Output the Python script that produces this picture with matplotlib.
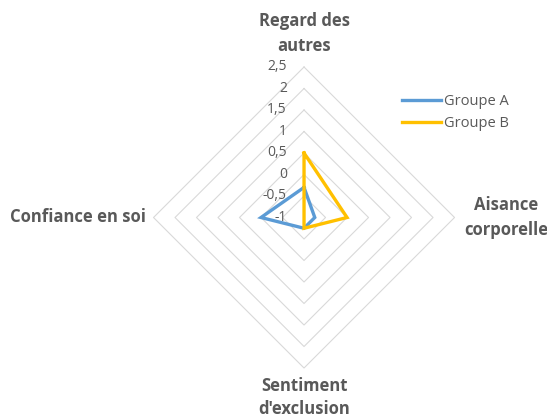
import numpy as np
import matplotlib.pyplot as plt

plt.rcParams['font.family'] = ['Open Sans', 'DejaVu Sans']

# Data
categories = ["Regard des\nautres", "Aisance\ncorporelle", "Sentiment\nd'exclusion", "Confiance en soi"]
groupe_a = [-0.3, -0.75, -0.75, 0]
groupe_b = [0.5, 0, -0.75, -1]
ticks = [-1, -0.5, 0, 0.5, 1, 1.5, 2, 2.5]
tick_labels = ["-1", "-0,5", "0", "0,5", "1", "1,5", "2", "2,5"]
r_min, r_max = -1, 2.5

# top, right, bottom, left (clockwise from top)
angles = np.pi / 2 - np.arange(len(categories)) * np.pi / 2


def to_xy(values):
    r = np.array(values, dtype=float) - r_min
    r = np.append(r, r[0])
    a = np.append(angles, angles[0])
    return r * np.cos(a), r * np.sin(a)


fig = plt.figure(figsize=(5.47, 4.19), dpi=100)
ax = fig.add_axes([0, 0, 1, 1])
ax.set_xlim(-7.07, 5.65)
ax.set_ylim(-4.686, 5.058)
ax.axis('off')

# grid rings (diamonds)
for t in ticks[1:]:
    gx, gy = to_xy([t] * len(categories))
    ax.plot(gx, gy, color='#d9d9d9', lw=0.8, zorder=1)

# value labels
for t, lab in zip(ticks, tick_labels):
    ax.text(-0.4, t - r_min, lab, ha='right', va='center', fontsize=10, color='#595959')

# series
xa, ya = to_xy(groupe_a)
xb, yb = to_xy(groupe_b)
ax.plot(xa, ya, color='#5B9BD5', lw=2.4, label='Groupe A', zorder=3, solid_joinstyle='miter')
ax.plot(xb, yb, color='#FFC000', lw=2.4, label='Groupe B', zorder=4, solid_joinstyle='miter')

# category labels
r_out = r_max - r_min
lab_style = dict(fontsize=12, fontweight='bold', color='#595959')
ax.text(0, r_out + 0.79, categories[0], ha='center', va='center', linespacing=1.5, **lab_style)
ax.text(r_out + 1.2, 0, categories[1], ha='center', va='center', linespacing=1.45, **lab_style)
ax.text(0, -(r_out + 0.68), categories[2], ha='center', va='center', linespacing=1.35, **lab_style)
ax.text(-(r_out + 0.17), 0, categories[3], ha='right', va='center', **lab_style)

ax.legend(loc='center left', bbox_to_anchor=(389 / 547, 1 - 112.5 / 419), frameon=False,
          fontsize=10.5, handlelength=2.65, handletextpad=0.2, labelspacing=0.5,
          labelcolor='#595959')

fig.savefig('out.png', dpi=100)
